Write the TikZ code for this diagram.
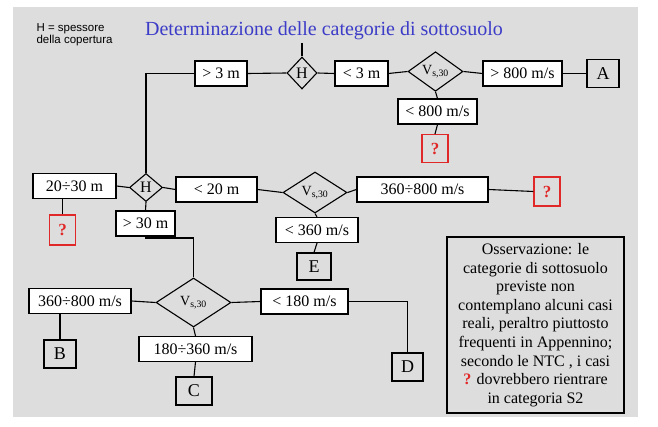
\documentclass[tikz,border=0pt]{standalone}
\usepackage{fontspec}
\setmainfont{Liberation Serif}
\newfontfamily\notefont{Liberation Sans}
\usetikzlibrary{shapes.geometric}
\definecolor{bggray}{RGB}{221,221,221}
\definecolor{titleblue}{RGB}{60,60,200}
\definecolor{qred}{RGB}{225,40,40}

\begin{document}
\begin{tikzpicture}[x=1pt,y=-1pt,line width=1.1pt,
    lbl/.style={draw,fill=white,minimum height=25pt,inner sep=0pt,font=\fontsize{16}{18}\selectfont},
    cat/.style={draw,minimum height=28pt,inner sep=0pt,font=\fontsize{18}{20}\selectfont},
    qm/.style={draw=qred,text=qred,minimum width=26pt,minimum height=28pt,inner sep=0pt,font=\fontsize{17}{19}\selectfont\bfseries},
    hdia/.style={draw,diamond,inner sep=0pt,font=\fontsize{16}{18}\selectfont},
    vdia/.style={draw,diamond,inner sep=0pt,font=\fontsize{14}{16}\selectfont}]

  % page and panel
  \fill[white] (0,0) rectangle (658,427);
  \fill[bggray] (13,7) rectangle (638,417);

  \node[anchor=north west,inner sep=0pt,align=left,font=\notefont\fontsize{11.5}{12}\selectfont] (note) at (36,23.5) {H = spessore\\della copertura};
  \node[text=titleblue,inner sep=0pt,font=\fontsize{20}{22}\selectfont] (title) at (324,31) {Determinazione delle categorie di sottosuolo};

  % upper branch
  \coordinate (root) at (302,43);
  \node[hdia,minimum width=30pt,minimum height=32pt] (Htop) at (302,73) {H};
  \node[lbl,minimum width=52pt] (gt3) at (221,73.5) {> 3 m};
  \node[lbl,minimum width=53pt] (lt3) at (361.5,73.5) {< 3 m};
  \node[vdia,minimum width=55pt,minimum height=39pt] (Vtop) at (435.5,71.5) {V\textsubscript{s,30}};
  \node[lbl,minimum width=79pt] (gt800) at (522.5,73.5) {> 800 m/s};
  \node[cat,minimum width=32pt] (A) at (603,73.5) {A};
  \node[lbl,minimum width=79pt] (lt800) at (437.5,111.5) {< 800 m/s};
  \node[qm] (q1) at (435,148.5) {?};

  % middle branch
  \node[hdia,minimum width=33pt,minimum height=28pt] (Hmid) at (146,187.5) {H};
  \node[lbl,minimum width=83pt] (r2030) at (74.5,186) {20÷30 m};
  \node[qm,minimum height=30pt] (q2) at (62.5,230) {?};
  \node[lbl,minimum width=81pt] (lt20) at (216.5,189.5) {< 20 m};
  \node[vdia,minimum width=64pt,minimum height=41pt] (Vmid) at (315,192.5) {V\textsubscript{s,30}};
  \node[lbl,minimum width=131pt] (r360800) at (422.5,189.5) {360÷800 m/s};
  \node[qm,minimum height=29pt] (q3) at (547,191.5) {?};
  \node[lbl,minimum width=82pt] (lt360) at (317,230) {< 360 m/s};
  \node[cat,minimum width=34pt,minimum height=27pt] (E) at (314,266.5) {E};
  \node[lbl,minimum width=59pt] (gt30) at (145.5,223.5) {> 30 m};

  % lower branch
  \coordinate (bend) at (193.5,238);
  \node[vdia,minimum width=75pt,minimum height=49pt] (Vbot) at (193.5,302.5) {V\textsubscript{s,30}};
  \node[lbl,minimum width=102pt] (r360800b) at (80,301) {360÷800 m/s};
  \node[cat,minimum width=32pt] (B) at (60,354) {B};
  \node[lbl,minimum width=113pt] (r180360) at (195.5,349) {180÷360 m/s};
  \node[cat,minimum width=36pt] (C) at (194,391) {C};
  \node[lbl,minimum width=87pt] (lt180) at (304.5,301.5) {< 180 m/s};
  \node[cat,minimum width=31pt] (D) at (407.5,367) {D};

  \node[draw,minimum width=177pt,minimum height=176pt,inner sep=0pt,align=center,
        font=\fontsize{16}{18.6}\selectfont] (obs) at (535.5,325)
    {Osservazione: le\\categorie di sottosuolo\\previste non\\contemplano alcuni casi\\reali, peraltro piuttosto\\frequenti in Appennino;\\secondo le NTC , i casi\\{\color{qred}\bfseries ?} dovrebbero rientrare\\in categoria S2};

  % connectors
  \draw (root) -- (Htop.north);
  \draw (Htop.west) -- (gt3.east);
  \draw (gt3.west) -| (Hmid.north);
  \draw (Htop.east) -- (lt3.west);
  \draw (lt3.east) -- (Vtop.west);
  \draw (Vtop.east) -- (gt800.west);
  \draw (gt800.east) -- (A.west);
  \draw (Vtop.south) -- (lt800.north);
  \draw (lt800.south) -- (q1.north);

  \draw (Hmid.west) -- (r2030.east);
  \draw (q2.north) -- (q2.north |- r2030.south);
  \draw (Hmid.east) -- (lt20.west);
  \draw (lt20.east) -- (Vmid.west);
  \draw (Vmid.east) -- (r360800.west);
  \draw (r360800.east) -- (q3.west);
  \draw (Vmid.south) -- (lt360.north);
  \draw (lt360.south) -- (E.north);
  \draw (Hmid.south) -- (gt30.north);
  \draw (gt30.south) |- (bend) -- (Vbot.north);

  \draw (Vbot.west) -- (r360800b.east);
  \draw (B.north) -- (B.north |- r360800b.south);
  \draw (Vbot.south) -- (r180360.north);
  \draw (r180360.south) -- (C.north);
  \draw (Vbot.east) -- (lt180.west);
  \draw (lt180.east) -| (D.north);
\end{tikzpicture}
\end{document}
